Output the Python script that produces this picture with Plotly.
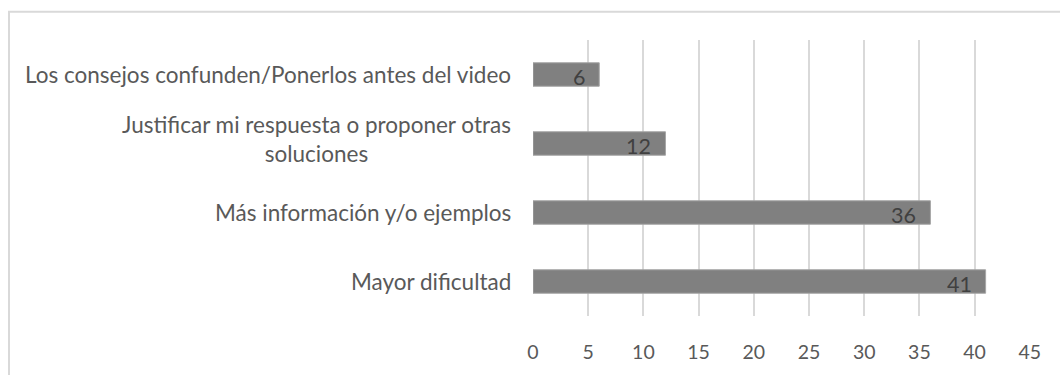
import plotly.graph_objects as go

# Survey answers (top to bottom) and how many people gave each one
categories = [
    "Los consejos confunden/Ponerlos antes del video",
    "Justificar mi respuesta o proponer otras<br>soluciones",
    "Más información y/o ejemplos",
    "Mayor dificultad",
]
counts = [6, 12, 36, 41]
tick_values = [0, 5, 10, 15, 20, 25, 30, 35, 40, 45]

FONT = "Lato"
TEXT_COLOR = "#595959"

fig = go.Figure()
fig.add_trace(go.Bar(
    x=counts,
    y=categories,
    orientation="h",
    width=0.34,
    marker=dict(color="#808080", line=dict(color="#a6a6a6", width=1)),
    hoverinfo="skip",
))

# Category names, centred line by line, to the left of the bars
for cat in categories:
    fig.add_annotation(
        x=0, y=cat, xref="paper", yref="y",
        text=cat, showarrow=False,
        xanchor="right", yanchor="middle", align="center",
        xshift=-20, yshift=5 if "<br>" in cat else 0,
        font=dict(family=FONT, size=22.5, color=TEXT_COLOR),
    )

# Value labels just inside the end of each bar
for cat, v in zip(categories, counts):
    fig.add_annotation(
        x=v, y=cat, xref="x", yref="y",
        text=str(v), showarrow=False,
        xanchor="right", yanchor="middle",
        xshift=-12, yshift=-2,
        font=dict(family=FONT, size=21.5, color="#404040"),
    )

# Light frame around the whole chart
fig.add_shape(
    type="rect", xref="paper", yref="paper",
    x0=(9 - 533) / 497, x1=1.2,
    y0=-0.4, y1=(319 - 11.5) / 279,
    line=dict(color="#d9d9d9", width=2),
    fillcolor="rgba(0,0,0,0)", layer="below",
)

fig.update_layout(
    width=1060, height=375,
    margin=dict(l=533, r=30, t=40, b=56),
    paper_bgcolor="white", plot_bgcolor="white",
    showlegend=False,
    bargap=0.66,
    xaxis=dict(
        range=[0, 45.02],
        tickvals=tick_values,
        ticktext=[str(t) for t in tick_values],
        showgrid=True, gridcolor="#d9d9d9", gridwidth=1.5,
        zeroline=False, showline=False, ticks="",
        ticklabelstandoff=22,
        tickfont=dict(family=FONT, size=19.5, color=TEXT_COLOR),
        fixedrange=True,
    ),
    yaxis=dict(
        autorange="reversed",
        showticklabels=False, showgrid=False,
        zeroline=False, showline=False, ticks="",
        fixedrange=True,
    ),
)

fig.write_html("out.html")
